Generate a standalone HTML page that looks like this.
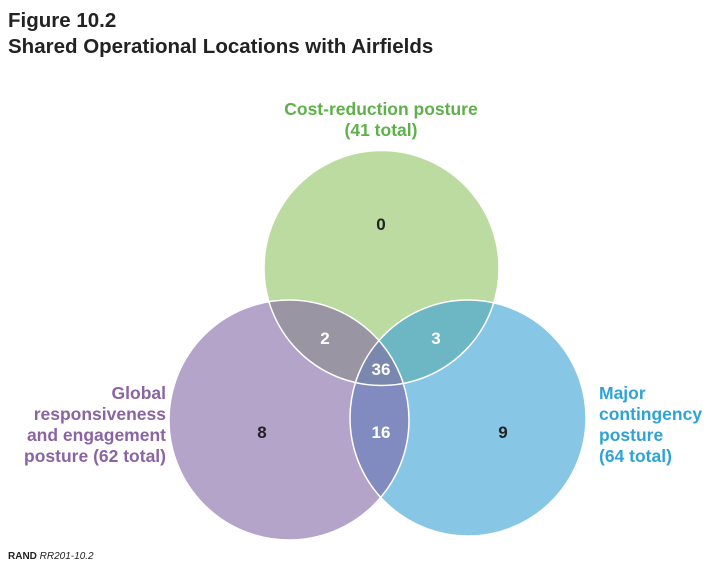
<!DOCTYPE html>
<html><head><meta charset="utf-8"><style>
body{margin:0;background:#fff;width:723px;height:577px;overflow:hidden;font-family:"Liberation Sans",sans-serif}
</style></head><body>
<svg width="723" height="577" viewBox="0 0 723 577">
<text x="8" y="27" font-size="20.5" font-weight="bold" fill="#222">Figure 10.2</text>
<text x="8" y="53" font-size="20.5" font-weight="bold" fill="#222">Shared Operational Locations with Airfields</text>
<defs>
<clipPath id="cg"><circle cx="381.5" cy="268" r="117.5"/></clipPath>
<clipPath id="cp"><circle cx="289" cy="420" r="120"/></clipPath>
<clipPath id="cb"><circle cx="468" cy="418" r="118"/></clipPath>
</defs>
<g id="venn"></g>
<text x="8" y="559" font-size="10" font-weight="bold" fill="#222">RAND <tspan font-style="italic" font-weight="normal">RR201-10.2</tspan></text>
</svg>
<script>
const setNames=['Cost-reduction posture','Global responsiveness and engagement posture','Major contingency posture'];
const setTotals=[41,62,64];
const regionLabels=['G','P','B','GP','GB','PB','GPB'];
const regionValues=[0,8,9,2,3,16,36];
const NS='http://www.w3.org/2000/svg';
const g=document.getElementById('venn');
const circ={G:[381.5,268,117.5],P:[289,420,120],B:[468,418,118]};
const fill={G:'#bcdba0',P:'#b4a4c9',B:'#88c6e6'};
function mk(t,a){const e=document.createElementNS(NS,t);for(const k in a)e.setAttribute(k,a[k]);return e;}
['G','P','B'].forEach(k=>{const c=circ[k];const e=mk('circle',{cx:c[0],cy:c[1],r:c[2],fill:fill[k]});

g.appendChild(e);});
function lens(a,b,col,name){const c=circ[b];const grp=mk('g',{'clip-path':'url(#c'+a.toLowerCase()+')'});
const e=mk('circle',{cx:c[0],cy:c[1],r:c[2],fill:col});

grp.appendChild(e);g.appendChild(grp);}
lens('G','P','#9a95a2','overlap-gp');lens('G','B','#6db7c4','overlap-gb');lens('P','B','#818bbf','overlap-pb');
const g3=mk('g',{'clip-path':'url(#cg)'});const g3b=mk('g',{'clip-path':'url(#cp)'});
const c3=mk('circle',{cx:circ.B[0],cy:circ.B[1],r:circ.B[2],fill:'#7a87ae'});


g3b.appendChild(c3);g3.appendChild(g3b);g.appendChild(g3);
['G','P','B'].forEach(k=>{const c=circ[k];g.appendChild(mk('circle',{cx:c[0],cy:c[1],r:c[2],fill:'none',stroke:'#fff','stroke-width':1.5}));});
const pos={G:[381,230],P:[262,438],B:[503,438],GP:[325,344],GB:[436,344],PB:[381,438],GPB:[381,375]};
regionLabels.forEach((r,i)=>{const p=pos[r];const t=mk('text',{x:p[0],y:p[1],'text-anchor':'middle','font-size':17,'font-weight':'bold',fill:r.length>1?'#fff':'#222'});
t.textContent=regionValues[i];

g.appendChild(t);});
function lbl(lines,x,y,anchor,col,name){const t=mk('text',{x:x,y:y,'text-anchor':anchor,'font-size':17.5,'font-weight':'bold',fill:col});
lines.forEach((l,i)=>{const s=mk('tspan',{x:x,dy:i?21:0});s.textContent=l;t.appendChild(s);});

g.appendChild(t);}
lbl(['Cost-reduction posture','('+setTotals[0]+' total)'],381,115,'middle','#5fb04a','label-cost-reduction');
lbl(['Global','responsiveness','and engagement','posture ('+setTotals[1]+' total)'],166,399,'end','#8a64a3','label-global');
lbl(['Major','contingency','posture','('+setTotals[2]+' total)'],599,399,'start','#2fa3d8','label-major');
</script>
</body></html>
